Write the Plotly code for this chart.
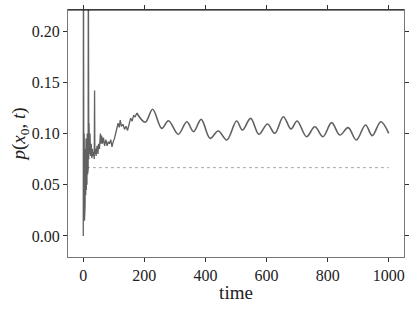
import plotly.graph_objects as go

# early transient
t_early = [0, 0.5, 1, 1.5, 2, 3, 4, 5, 6, 7, 8, 9, 10, 11, 12, 13, 14, 15, 16, 16.5,
           17, 17.5, 18, 19, 20, 22, 24, 26, 28, 30, 32, 34, 36, 37, 38, 40, 42, 45,
           48, 50, 53, 56, 58, 60, 63, 66, 70, 74, 78, 82, 86, 90, 94, 98, 102, 106,
           110, 114, 118, 121, 125, 130, 135, 140, 145, 150, 155, 160, 165, 170, 175]
p_early = [0.0, 0.30, 0.001, 0.193, 0.02, 0.10, 0.015, 0.09, 0.03, 0.085, 0.04, 0.095,
           0.045, 0.08, 0.05, 0.10, 0.06, 0.09, 0.065, 0.30, 0.08, 0.30, 0.075, 0.11,
           0.08, 0.10, 0.078, 0.09, 0.076, 0.085, 0.078, 0.082, 0.075, 0.142, 0.08,
           0.085, 0.078, 0.088, 0.08, 0.09, 0.085, 0.10, 0.09, 0.098, 0.09, 0.096,
           0.088, 0.094, 0.088, 0.092, 0.09, 0.094, 0.087, 0.092, 0.095, 0.10, 0.104,
           0.11, 0.106, 0.113, 0.107, 0.109, 0.104, 0.107, 0.103, 0.108, 0.115, 0.112,
           0.118, 0.116, 0.120]

# oscillating regime (peaks and troughs)
t_osc = [175, 203, 227, 257, 279, 311, 339, 361, 386, 415, 442, 470, 502, 521, 548,
         575, 603, 627, 655, 680, 700, 731, 758, 785, 813, 840, 867, 894, 924, 946,
         974, 1000]
p_osc = [0.120, 0.111, 0.1236, 0.105, 0.1125, 0.0992, 0.1115, 0.1018, 0.1138, 0.0953,
         0.1025, 0.0937, 0.1122, 0.1034, 0.1148, 0.0992, 0.1093, 0.1002, 0.1164, 0.1044,
         0.1122, 0.0969, 0.1066, 0.0969, 0.1106, 0.0985, 0.1057, 0.0937, 0.1083, 0.0979,
         0.1115, 0.1002]

# reference level
t_ref = [12, 1000]
p_ref = [0.0667, 0.0667]

x_ticks = [0, 200, 400, 600, 800, 1000]
y_ticks = [0.00, 0.05, 0.10, 0.15, 0.20]
y_ticklabels = ["0.00", "0.05", "0.10", "0.15", "0.20"]

line_col = "rgba(80,80,80,0.9)"
fig = go.Figure()
fig.add_trace(go.Scatter(x=t_ref, y=p_ref, mode="lines",
                         line=dict(color="#aaaaaa", width=1, dash="dot")))
fig.add_trace(go.Scatter(x=t_early, y=p_early, mode="lines",
                         line=dict(color=line_col, width=1.3)))
fig.add_trace(go.Scatter(x=t_osc, y=p_osc, mode="lines",
                         line=dict(color=line_col, width=1.6, shape="spline", smoothing=1.0)))

serif = "Liberation Serif"
tickfont = dict(family=serif, size=16, color="#222")
fig.update_layout(
    width=416, height=309,
    margin=dict(l=68, r=12, t=10, b=52),
    paper_bgcolor="white", plot_bgcolor="white",
    showlegend=False, font=dict(family=serif, size=16, color="black"),
    xaxis=dict(range=[-50, 1050], tickvals=x_ticks, ticks="outside", ticklen=4,
               tickcolor="#333", showline=True, linecolor="#777", linewidth=1.2,
               mirror="ticks", showgrid=False, zeroline=False, automargin=False,
               tickfont=tickfont,
               title=dict(text="time", font=dict(family=serif, size=19, color="#222"),
                          standoff=2)),
    yaxis=dict(range=[-0.0205, 0.2205], tickvals=y_ticks, ticktext=y_ticklabels,
               ticks="outside", ticklen=4, tickcolor="#333", showline=True,
               linecolor="#777", linewidth=1.2, mirror="ticks", showgrid=False,
               zeroline=False, automargin=False, tickfont=tickfont,
               title=dict(text="<i>p</i>(<i>x</i><sub>0</sub>, <i>t</i>)",
                          font=dict(family=serif, size=19, color="#222"), standoff=0)),
    shapes=[dict(type="line", xref="paper", yref="paper", x0=0, x1=1, y0=1, y1=1,
                 line=dict(color="black", width=1.2))],
)
fig.write_html("out.html", config={"displayModeBar": False},
               post_script="document.body.style.margin='0';")
